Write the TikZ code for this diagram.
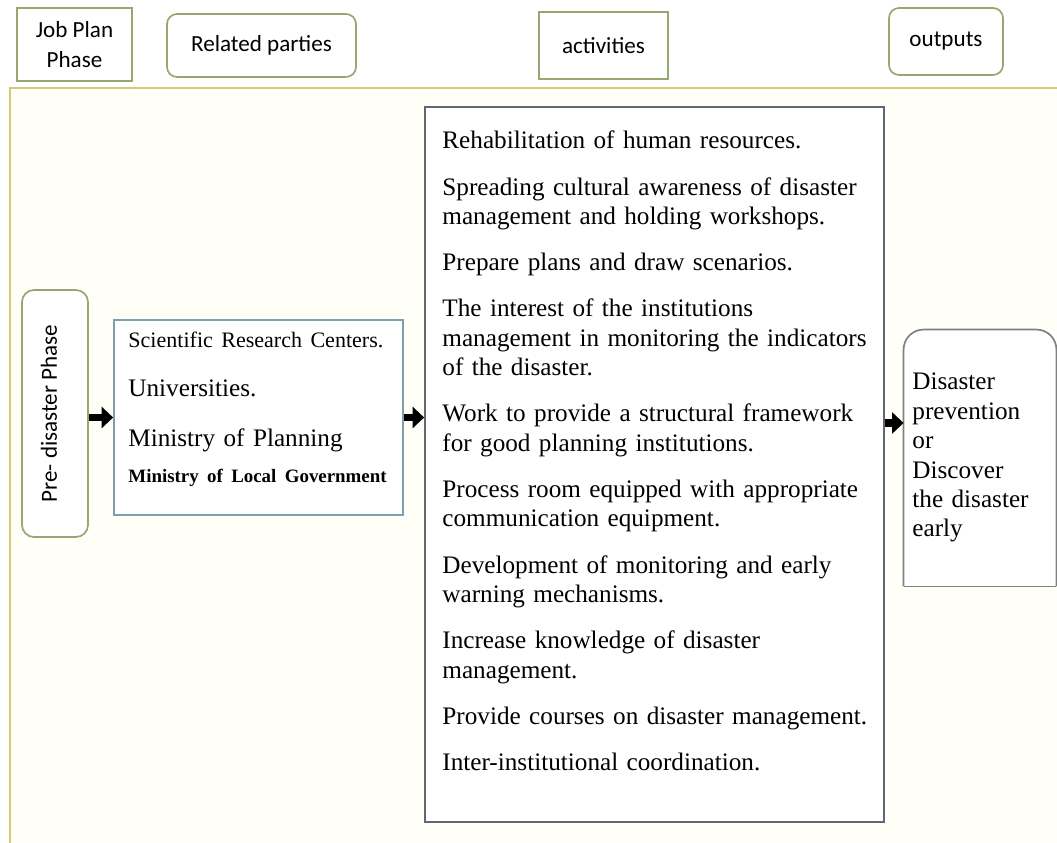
\documentclass[tikz,border=0pt]{standalone}
\usepackage{fontspec}
\setmainfont{Liberation Serif}
\newfontfamily\calibrifont{Carlito}
\usepackage{xcolor}
\usetikzlibrary{arrows.meta, positioning}
\newlength{\px}
\setlength{\px}{0.4762pt}
\definecolor{headline}{RGB}{150,168,112}
\definecolor{frameline}{RGB}{212,202,118}
\definecolor{framefill}{RGB}{255,255,247}
\definecolor{relline}{RGB}{128,158,172}
\definecolor{actline}{RGB}{95,105,115}
\definecolor{outline}{RGB}{128,128,128}

\begin{document}
\begin{tikzpicture}[x=0.4762pt, y=-0.4762pt, >=Stealth,
    every node/.style={inner sep=0pt},
    headbox/.style={draw=headline, fill=white, line width=0.8pt, align=center,
        font=\calibrifont\fontsize{11}{14}\selectfont},
    headround/.style={headbox, rounded corners=10\px},
    phasebox/.style={draw=headline, fill=white, line width=0.8pt, rounded corners=12\px},
    partybox/.style={draw=relline, fill=white, line width=0.8pt},
    actbox/.style={draw=actline, fill=white, line width=0.8pt},
    listtext/.style={anchor=base west, align=left,
        font=\fontsize{12}{14}\selectfont},
    fatarrow/.style={-{Triangle[length=5.5pt, width=10pt]}, line width=3.6pt, black}]

    % Page size
    \useasboundingbox (0,0) rectangle (1057,843);

    % Outer frame (only top and left edges are visible)
    \fill[framefill] (10,88) rectangle (1057,843);
    \draw[frameline, line width=1pt] (1057,88) -- (10,88) -- (10,843);

    % Header row
    \node[headbox, minimum width=115\px, minimum height=73\px] (jobhead) at (74.5,44.5) {Job Plan\\Phase};
    \node[headround, minimum width=189\px, minimum height=63\px] (parthead) at (261.5,45.5) {Related parties};
    \node[headbox, minimum width=129\px, minimum height=67\px] (acthead) at (603.5,45.5) {activities};
    \node[headround, minimum width=114\px, minimum height=67\px] (outhead) at (946,41.5) {outputs};

    % Phase column
    \node[phasebox, minimum width=66\px, minimum height=247\px] (predis) at (55,413.5) {};
    \node[rotate=90, font=\calibrifont\fontsize{11}{14}\selectfont] (predistext)
        at ([xshift=-6\px]predis.center) {Pre- disaster Phase};

    % Related parties
    \node[partybox, minimum width=289\px, minimum height=195\px] (related) at (258.5,417.5) {};
    \node[listtext, text width=280\px, font=\fontsize{12}{12}\selectfont] (reltext) at (128,348)
        {{\fontsize{10.5}{12}\selectfont Scientific Research Centers.}\\[11.3pt]
         Universities.\\[11.8pt]
         Ministry of Planning\\[5.1pt]
         {\fontsize{9}{12}\selectfont\bfseries Ministry of Local Government}};

    % Activities
    \node[actbox, minimum width=459\px, minimum height=715\px] (acts) at (654.5,464.5) {};
    \node[listtext, text width=435\px] (actstext) at (442,149)
        {Rehabilitation of human resources.\\[8pt]
         Spreading cultural awareness of disaster\\ management and holding workshops.\\[8pt]
         Prepare plans and draw scenarios.\\[8pt]
         The interest of the institutions\\ management in monitoring the indicators\\ of the disaster.\\[8pt]
         Work to provide a structural framework\\ for good planning institutions.\\[8pt]
         Process room equipped with appropriate\\ communication equipment.\\[8pt]
         Development of monitoring and early\\ warning mechanisms.\\[8pt]
         Increase knowledge of disaster\\ management.\\[8pt]
         Provide courses on disaster management.\\[8pt]
         Inter-institutional coordination.};

    % Outputs (rounded on top only)
    \node[minimum width=152\px, minimum height=256\px] (outs) at (980,458) {};
    \fill[white] (outs.south west) rectangle (outs.north east);
    \draw[outline, line width=0.8pt, rounded corners=20\px]
        (outs.south west) -- (outs.north west) -- (outs.north east) -- (outs.south east);
    \draw[outline, line width=0.8pt] (outs.south west) -- (outs.south east);
    \node[listtext, text width=140\px] (outstext) at (912,390)
        {Disaster\\ prevention\\ or\\ Discover\\ the disaster\\ early};

    % Flow arrows
    \coordinate (arrowlow) at (0,423);
    \draw[fatarrow] (predis.east |- related.west) -- (related.west);
    \draw[fatarrow] (related.east) -- (acts.west |- related.east);
    \draw[fatarrow] (acts.east |- arrowlow) -- (outs.west |- arrowlow);

\end{tikzpicture}
\end{document}
